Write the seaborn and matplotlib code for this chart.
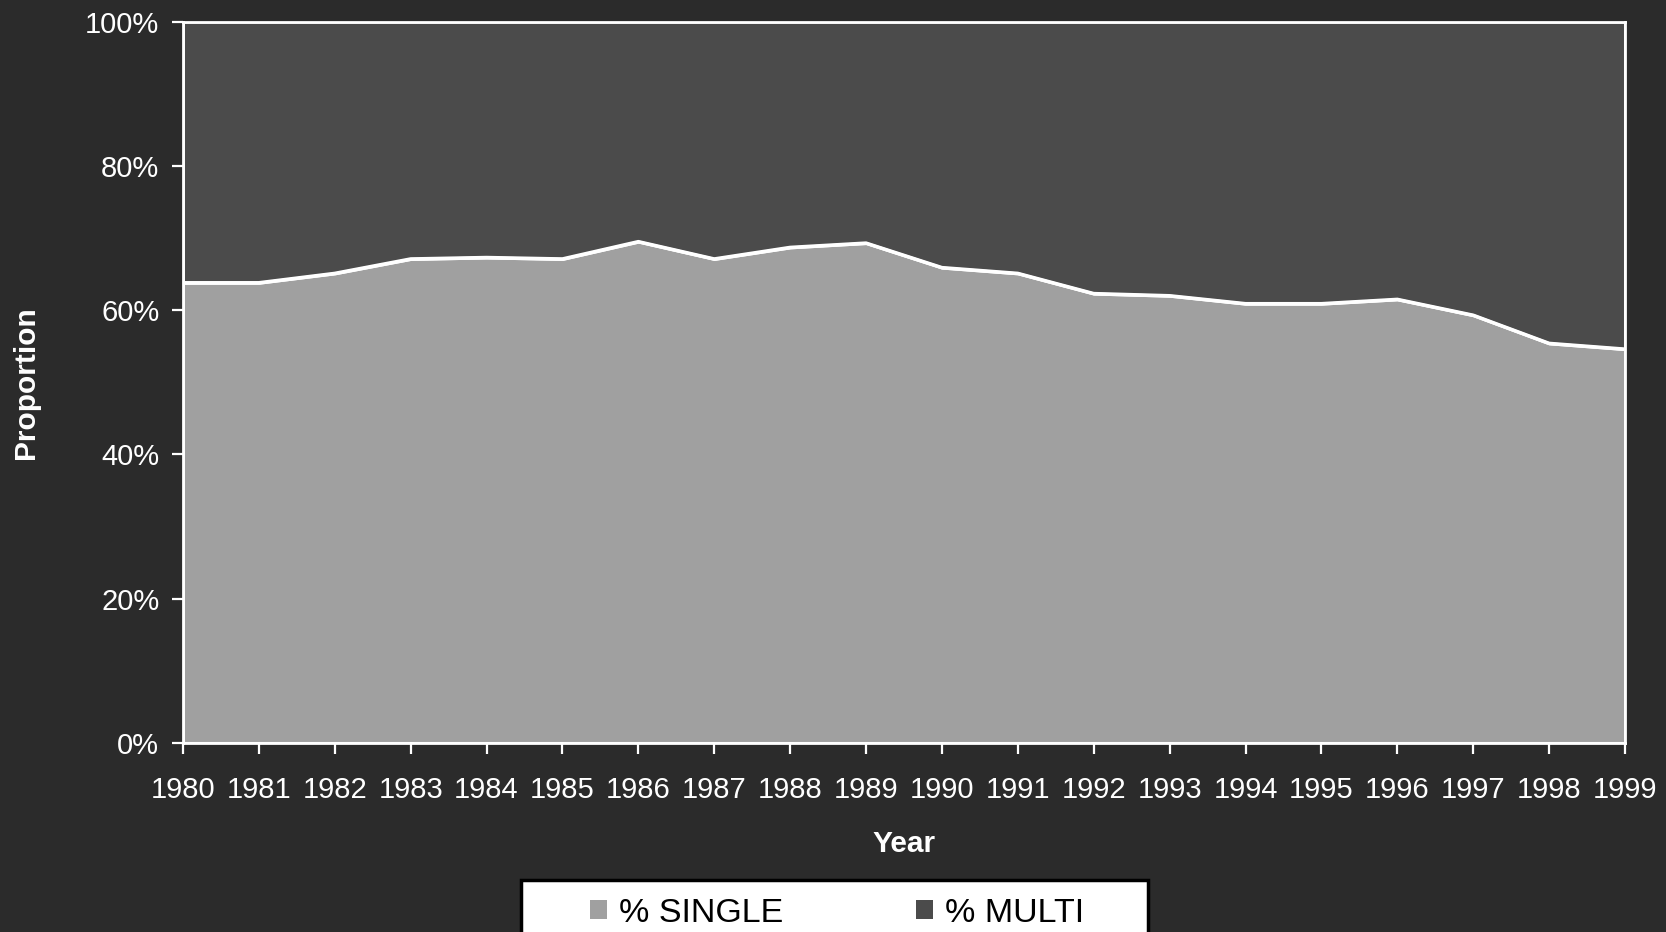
import matplotlib
matplotlib.use("Agg")
import matplotlib.pyplot as plt
import seaborn as sns
import pandas as pd
from matplotlib.patches import Patch, Rectangle
from matplotlib.ticker import FuncFormatter

# Share of single vs multi, by year (percent)
years = list(range(1980, 2000))
pct_single = [63.8, 63.8, 65.1, 67.1, 67.3, 67.1, 69.5, 67.1, 68.7, 69.3,
              65.9, 65.1, 62.3, 62.0, 60.9, 60.9, 61.5, 59.3, 55.4, 54.6]
pct_multi = [100 - v for v in pct_single]
series_labels = ["% SINGLE", "% MULTI"]

BG = "#2b2b2b"
C_SINGLE = "#a0a0a0"
C_MULTI = "#4b4b4b"

sns.set_theme(style="dark", rc={
    "figure.facecolor": BG,
    "axes.facecolor": BG,
    "axes.edgecolor": "white",
    "text.color": "white",
    "axes.labelcolor": "white",
    "xtick.color": "white",
    "ytick.color": "white",
})
plt.rcParams["font.family"] = ["Liberation Sans", "DejaVu Sans"]

df = pd.DataFrame({"Year": years, "single": pct_single, "multi": pct_multi})

fig = plt.figure(figsize=(16.66, 9.32), dpi=100)
ax = fig.add_axes([0.1098, 0.2028, 0.8656, 0.7741])

ax.stackplot(df["Year"], df["single"], df["multi"],
             colors=[C_SINGLE, C_MULTI], edgecolor="white", linewidth=2.2)
sns.lineplot(data=df, x="Year", y="single", ax=ax, color="white", linewidth=2.4)

ax.set_xlim(1980, 1999)
ax.set_ylim(0, 100)
ax.set_xticks(years)
ax.set_yticks([0, 20, 40, 60, 80, 100])
ax.yaxis.set_major_formatter(FuncFormatter(lambda v, _: f"{v:.0f}%"))
ax.tick_params(axis="both", which="major", direction="out", length=8, width=1.6,
               labelsize=21, bottom=True, left=True)
ax.tick_params(axis="x", pad=16)
ax.tick_params(axis="y", pad=9)
for s in ax.spines.values():
    s.set_color("white")
    s.set_linewidth(2)
ax.grid(False)

ax.set_xlabel("Year", fontsize=21.5, fontweight="bold")
ax.set_ylabel("Proportion", fontsize=21.5, fontweight="bold")
ax.xaxis.set_label_coords(0.5, -0.12)
ax.yaxis.set_label_coords(-0.099, 0.5)

# Legend box along the bottom edge
fig.patches.append(Rectangle((521 / 1666, -0.05), (1148 - 521) / 1666, 0.05 + (1 - 880 / 932),
                             transform=fig.transFigure, facecolor="white",
                             edgecolor="black", linewidth=2.5, zorder=5))
handles = [Patch(facecolor=C_SINGLE, edgecolor="none"),
           Patch(facecolor=C_MULTI, edgecolor="none")]
leg = fig.legend(handles, series_labels, loc="center left",
                 bbox_to_anchor=(590 / 1666, 1 - 913 / 932), ncol=2, frameon=False,
                 fontsize=24.5, handlelength=0.5, handleheight=0.5, handletextpad=0.35,
                 columnspacing=3.9, borderpad=0, borderaxespad=0)
leg.set_zorder(6)
for t in leg.get_texts():
    t.set_color("black")

fig.savefig("out.png", dpi=100, facecolor=BG)
